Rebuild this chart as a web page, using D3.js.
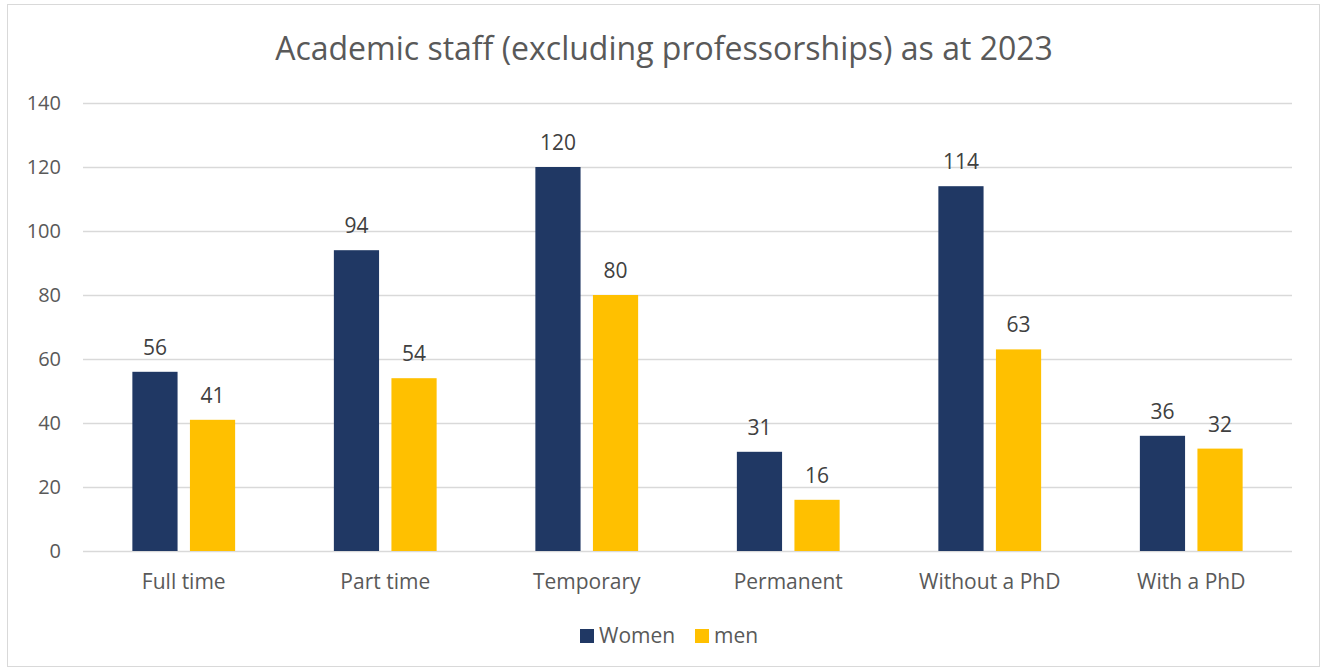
<!DOCTYPE html>
<html>
<head>
<meta charset="utf-8">
<script src="https://cdn.jsdelivr.net/npm/d3@7"></script>
<style>
  body { margin: 0; background: #fff; }
  text { font-family: "Open Sans", "Noto Sans", sans-serif; }
</style>
</head>
<body>
<script>
// data
const categories = ["Full time", "Part time", "Temporary", "Permanent", "Without a PhD", "With a PhD"];
const seriesNames = ["Women", "men"];
const women = [56, 94, 120, 31, 114, 36];
const men = [41, 54, 80, 16, 63, 32];
const yTicks = [0, 20, 40, 60, 80, 100, 120, 140];
const title = "Academic staff (excluding professorships) as at 2023";

const W = 1321, H = 671;
const margin = {top: 103, right: 29, bot: 120, left: 83};
const width = W - margin.left - margin.right,
      height = H - margin.top - margin.bot;

const colors = {Women: "#203864", men: "#FFC000"};

const svg = d3.select("body").append("svg")
  .attr("width", W).attr("height", H);

// outer chart frame
svg.append("rect")
  .attr("x", 7.5).attr("y", 4.5)
  .attr("width", 1312).attr("height", 662)
  .attr("fill", "#fff").attr("stroke", "#d9d9d9");

svg.append("text")
  .attr("x", 664).attr("y", 60)
  .attr("text-anchor", "middle")
  .attr("font-size", 32)
  .attr("fill", "#595959")
  .text(title);

const g = svg.append("g").attr("transform", `translate(${margin.left},${margin.top})`);

const x0 = d3.scaleBand().domain(categories).range([0, width]).paddingInner(0.49).paddingOuter(0.245);
const x1 = d3.scaleBand().domain(seriesNames).range([0, x0.bandwidth()]).paddingInner(0.215);
const y = d3.scaleLinear().domain([0, 140]).range([height, 0]);

// gridlines
g.append("g")
  .call(d3.axisLeft(y).tickValues(yTicks).tickSize(-width).tickFormat(""))
  .call(a => a.select(".domain").remove())
  .call(a => a.selectAll("line").attr("stroke", "#d9d9d9").attr("stroke-width", 1.3));

// y labels
g.append("g")
  .call(d3.axisLeft(y).tickValues(yTicks).tickSize(0).tickPadding(22))
  .call(a => a.select(".domain").remove())
  .call(a => a.selectAll("text").attr("font-size", 20).attr("fill", "#595959")
    .attr("font-family", "'Open Sans', sans-serif"));

const rows = categories.map((c, i) => ({cat: c, vals: [{s: "Women", v: women[i]}, {s: "men", v: men[i]}]}));

const groups = g.selectAll(".grp").data(rows).enter().append("g")
  .attr("transform", d => `translate(${x0(d.cat)},0)`);

groups.selectAll("rect").data(d => d.vals).enter().append("rect")
  .attr("x", d => x1(d.s))
  .attr("y", d => y(d.v))
  .attr("width", x1.bandwidth())
  .attr("height", d => height - y(d.v))
  .attr("fill", d => colors[d.s]);

groups.selectAll(".lbl").data(d => d.vals).enter().append("text")
  .attr("x", d => x1(d.s) + x1.bandwidth() / 2)
  .attr("y", d => y(d.v) - 17)
  .attr("text-anchor", "middle")
  .attr("font-size", 21)
  .attr("fill", "#404040")
  .text(d => d.v);

// x axis labels
g.append("g")
  .attr("transform", `translate(0,${height})`)
  .call(d3.axisBottom(x0).tickSize(0).tickPadding(23))
  .call(a => a.select(".domain").remove())
  .call(a => a.selectAll("text").attr("font-size", 21).attr("fill", "#595959")
    .attr("font-family", "'Open Sans', sans-serif"));

// legend
const legend = svg.append("g").attr("transform", "translate(580,636)");
const lx = [0, 115];
seriesNames.forEach((s, i) => {
  const it = legend.append("g").attr("transform", `translate(${lx[i]},0)`);
  it.append("rect").attr("x", 0).attr("y", -7).attr("width", 14).attr("height", 14).attr("fill", colors[s]);
  it.append("text").attr("x", 19).attr("y", 0).attr("dy", "0.35em")
    .attr("font-size", 21).attr("fill", "#595959").text(s);
});
</script>
</body>
</html>
